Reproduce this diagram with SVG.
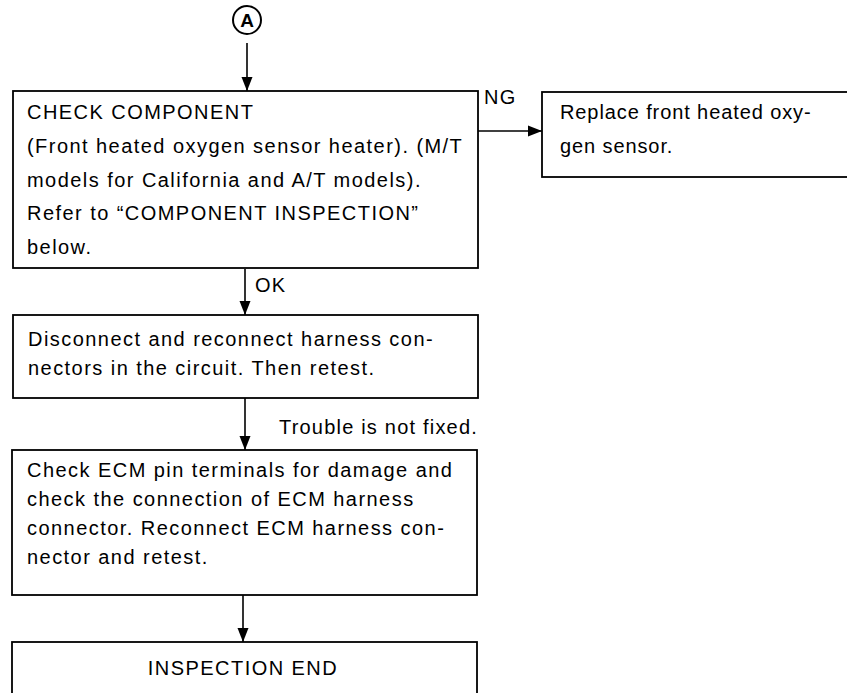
<svg xmlns="http://www.w3.org/2000/svg" width="847" height="693" viewBox="0 0 847 693">
<style>
  .box { fill: #fff; stroke: #000; stroke-width: 1.8; }
  .t { font-family: "Liberation Sans", Arial, sans-serif; font-size: 20px; fill: #000; letter-spacing: 1.45px; }
  .tn { letter-spacing: 0.9px; }
  .lbl { font-family: "Liberation Sans", Arial, sans-serif; font-size: 20px; fill: #000; letter-spacing: 1.2px; }
  .conn { stroke: #000; stroke-width: 1.6; fill: none; marker-end: url(#arr); }
</style>
<defs>
  <marker id="arr" markerUnits="userSpaceOnUse" markerWidth="14" markerHeight="14" viewBox="0 0 14 14" refX="14" refY="7" orient="auto">
    <path d="M0,1.5 L14,7 L0,12.5 Z" fill="#000"/>
  </marker>
</defs>
<rect width="847" height="693" fill="#fff"/>

<g id="connectors">
  <line class="conn" x1="247" y1="43" x2="247" y2="91"/>
  <line class="conn" x1="478" y1="131" x2="542" y2="131"/>
  <line class="conn" x1="245" y1="269" x2="245" y2="315"/>
  <line class="conn" x1="245" y1="398" x2="245" y2="450"/>
  <line class="conn" x1="243" y1="595" x2="243" y2="642"/>
  <text class="lbl" x="484" y="104">NG</text>
  <text class="lbl" x="255" y="292">OK</text>
  <text class="lbl" x="279" y="434">Trouble is not fixed.</text>
</g>

<g id="nodeA">
  <circle cx="247" cy="20" r="14" fill="#fff" stroke="#000" stroke-width="2"/>
  <text x="247" y="27" text-anchor="middle" font-family="Liberation Sans, Arial, sans-serif" font-weight="bold" font-size="19" fill="#000">A</text>
</g>

<g id="check-component">
  <rect class="box" x="13" y="91" width="465" height="177"/>
  <text class="t" x="27" y="119">CHECK COMPONENT</text>
  <text class="t" x="27" y="153">(Front heated oxygen sensor heater). (M/T</text>
  <text class="t" x="27" y="187">models for California and A/T models).</text>
  <text class="t" x="27" y="220">Refer to “COMPONENT INSPECTION”</text>
  <text class="t" x="27" y="254">below.</text>
</g>

<g id="replace-sensor">
  <rect class="box" x="542" y="92" width="320" height="85"/>
  <text class="t tn" x="560" y="119">Replace front heated oxy-</text>
  <text class="t tn" x="560" y="153">gen sensor.</text>
</g>

<g id="reconnect">
  <rect class="box" x="13" y="315" width="465" height="83"/>
  <text class="t" x="28" y="346">Disconnect and reconnect harness con-</text>
  <text class="t" x="28" y="375">nectors in the circuit. Then retest.</text>
</g>

<g id="check-ecm">
  <rect class="box" x="12" y="450" width="465" height="145"/>
  <text class="t" x="27" y="477">Check ECM pin terminals for damage and</text>
  <text class="t" x="27" y="506">check the connection of ECM harness</text>
  <text class="t" x="27" y="535">connector. Reconnect ECM harness con-</text>
  <text class="t" x="27" y="564">nector and retest.</text>
</g>

<g id="inspection-end">
  <rect class="box" x="12" y="642" width="465" height="70"/>
  <text class="t" x="243" y="675" text-anchor="middle">INSPECTION END</text>
</g>
</svg>
